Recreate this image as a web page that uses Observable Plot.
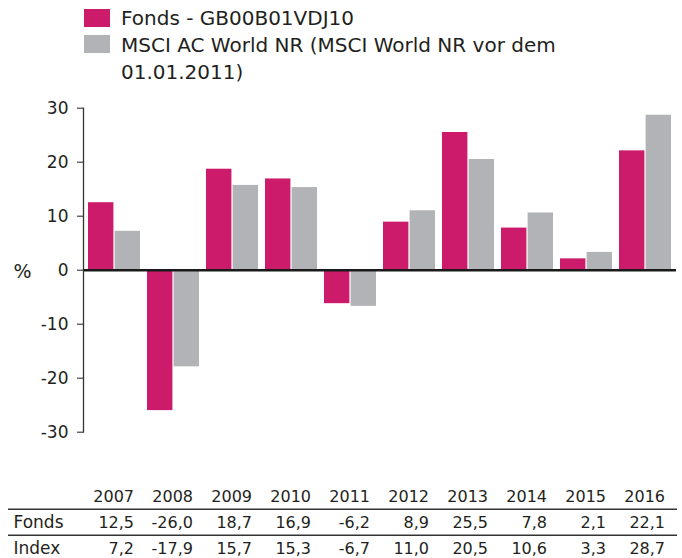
<!DOCTYPE html>
<html><head><meta charset="utf-8">
<script src="https://cdn.jsdelivr.net/npm/d3@7"></script>
<script src="https://cdn.jsdelivr.net/npm/@observablehq/plot@0.6"></script>
<style>
body{margin:0;background:#fff;font-family:"DejaVu Sans",sans-serif;color:#231f20;}
#wrap{position:relative;width:682px;height:558px;overflow:hidden;background:#fff}
#legend{position:relative;height:95px}
.sw{position:absolute;left:84px;width:26px;height:18px}
.lt{position:absolute;left:121px;width:450px;font-size:20px;line-height:27px;white-space:normal}
svg{display:block}
</style></head><body><div id="wrap"><div id="legend"></div><div id="chart"></div><div id="table"></div></div>
<script>
const years = [2007, 2008, 2009, 2010, 2011, 2012, 2013, 2014, 2015, 2016];
const fonds = [12.5, -26.0, 18.7, 16.9, -6.2, 8.9, 25.5, 7.8, 2.1, 22.1];
const index = [7.2, -17.9, 15.7, 15.3, -6.7, 11.0, 20.5, 10.6, 3.3, 28.7];
const seriesNames = ["Fonds - GB00B01VDJ10", "MSCI AC World NR (MSCI World NR vor dem 01.01.2011)"];
const rowLabels = ["Fonds", "Index"];
const colors = ["#cc1b6b", "#b2b3b6"];
const yTicks = [-30, -20, -10, 0, 10, 20, 30];
const yLabel = "%";

// legend
const legend = document.getElementById("legend");
const swTops = [9, 35], txtTops = [5, 32];
seriesNames.forEach((name, i) => {
  const sw = document.createElement("div");
  sw.className = "sw"; sw.style.top = swTops[i] + "px"; sw.style.background = colors[i];
  const t = document.createElement("div");
  t.className = "lt"; t.style.top = txtTops[i] + "px"; t.textContent = name;
  legend.append(sw, t);
});

const rows = years.map((y, i) => ({year: String(y), fonds: fonds[i], index: index[i]}));
const xOpts = {domain: years.map(String), paddingInner: 0.12, paddingOuter: 0.06, axis: null};
const fmt = v => v.toFixed(1).replace(".", ",");
const ink = "#231f20";

const chart = Plot.plot({
  width: 682, height: 385,
  marginTop: 12.7, marginBottom: 48.3, marginLeft: 83, marginRight: 6,
  x: xOpts,
  y: {domain: [-30, 30]},
  style: {fontFamily: "DejaVu Sans", fontSize: "17px", color: ink, background: "white"},
  marks: [
    Plot.barY(rows, {x: "year", y: "fonds", fill: colors[0], insetRight: 26.6}),
    Plot.barY(rows, {x: "year", y: "index", fill: colors[1], insetLeft: 26.6}),
    Plot.ruleY([0], {stroke: "#1a1a1a", strokeWidth: 2.6}),
    Plot.frame({anchor: "left", stroke: "#333", strokeWidth: 1.3}),
    Plot.axisY({ticks: yTicks, tickSize: 6, tickPadding: 9, tickFormat: d => String(d), label: null, fontSize: 17}),
    Plot.text([yLabel], {text: d => d, y: [0], frameAnchor: "left", textAnchor: "start", dx: -70, dy: 2, fontSize: 19})
  ]
});
document.getElementById("chart").append(chart);

const tableRows = ["head", ...rowLabels];
const table = Plot.plot({
  width: 682, height: 78,
  marginTop: 15.3, marginBottom: 9.7, marginLeft: 83, marginRight: 6,
  x: xOpts,
  y: {type: "point", domain: tableRows, padding: 0, axis: null},
  style: {fontFamily: "DejaVu Sans", fontSize: "16px", color: ink, background: "white"},
  marks: [
    Plot.ruleY(rowLabels, {y: d => d, dy: -13.3, insetLeft: -75, insetRight: -1, stroke: "#333", strokeWidth: 1.4}),
    Plot.text(years, {x: d => String(d), y: () => "head", text: d => String(d), textAnchor: "end", dx: 19.5, fontSize: 16}),
    Plot.text(rows, {x: "year", y: () => rowLabels[0], text: d => fmt(d.fonds), textAnchor: "end", dx: 19.5, fontSize: 16}),
    Plot.text(rows, {x: "year", y: () => rowLabels[1], text: d => fmt(d.index), textAnchor: "end", dx: 19.5, fontSize: 16}),
    Plot.text(rowLabels, {y: d => d, text: d => d, frameAnchor: "left", textAnchor: "start", dx: -70, fontSize: 17})
  ]
});
document.getElementById("table").append(table);
</script>
</body></html>
